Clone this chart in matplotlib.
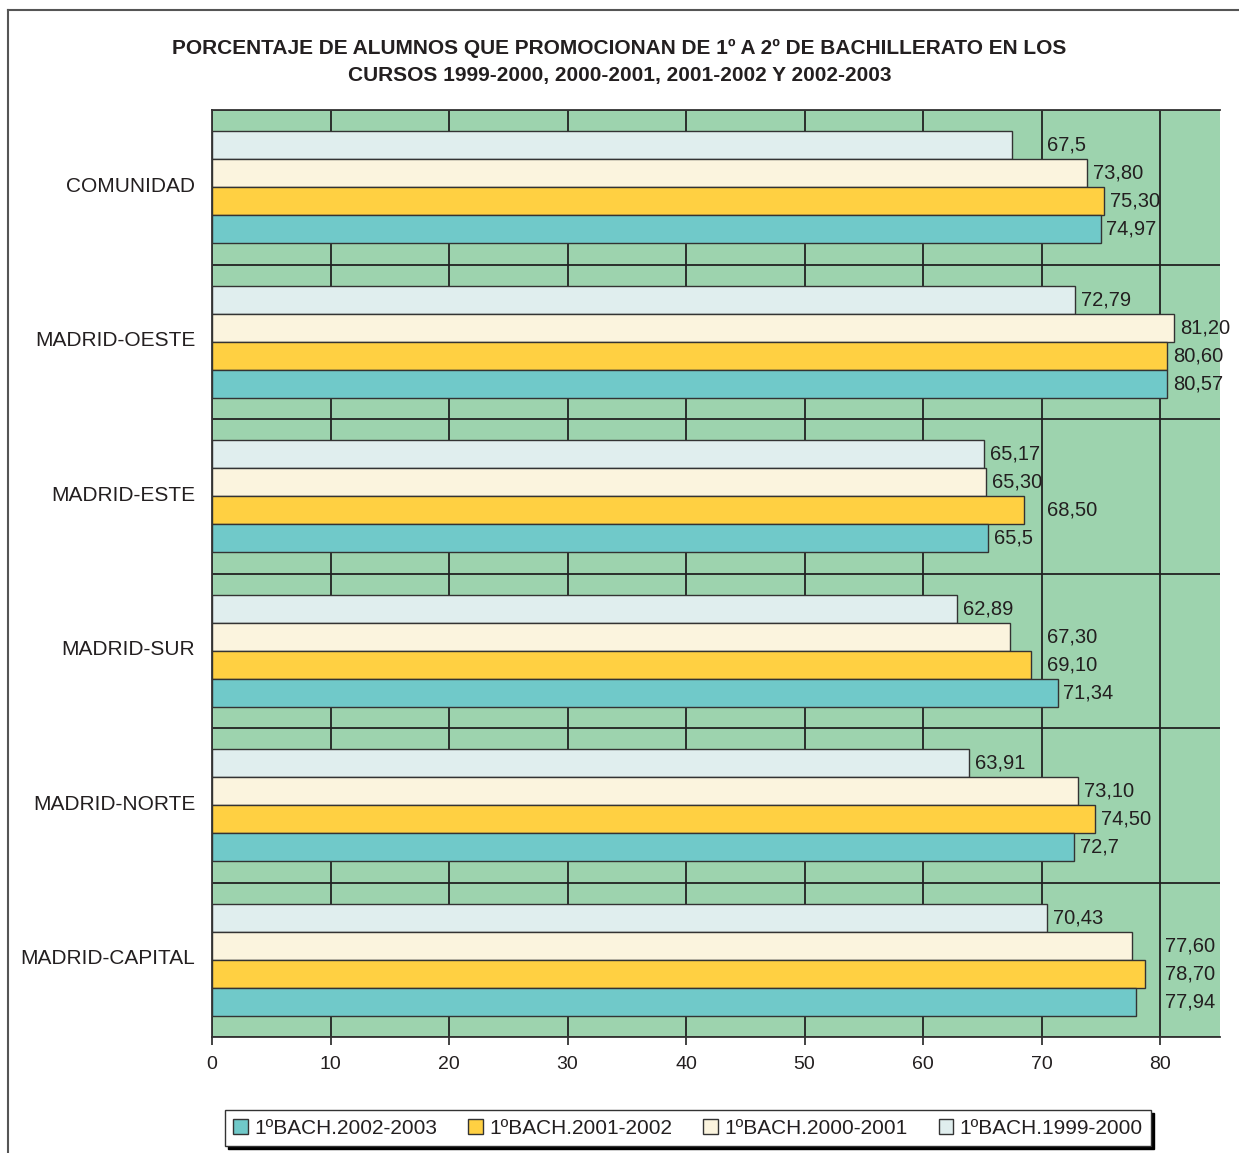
import numpy as np
import matplotlib
matplotlib.use('Agg')
import matplotlib.pyplot as plt
from matplotlib.lines import Line2D

plt.rcParams['font.family'] = ['Liberation Sans', 'DejaVu Sans']

# datos
regiones = ['COMUNIDAD', 'MADRID-OESTE', 'MADRID-ESTE', 'MADRID-SUR',
            'MADRID-NORTE', 'MADRID-CAPITAL']
cursos = ['1999-2000', '2000-2001', '2001-2002', '2002-2003']
v_1999 = [67.5, 72.79, 65.17, 62.89, 63.91, 70.43]
v_2000 = [73.80, 81.20, 65.30, 67.30, 73.10, 77.60]
v_2001 = [75.30, 80.60, 68.50, 69.10, 74.50, 78.70]
v_2002 = [74.97, 80.57, 65.5, 71.34, 72.7, 77.94]
etiquetas_1999 = ['67,5', '72,79', '65,17', '62,89', '63,91', '70,43']
etiquetas_2000 = ['73,80', '81,20', '65,30', '67,30', '73,10', '77,60']
etiquetas_2001 = ['75,30', '80,60', '68,50', '69,10', '74,50', '78,70']
etiquetas_2002 = ['74,97', '80,57', '65,5', '71,34', '72,7', '77,94']
xticks = [0, 10, 20, 30, 40, 50, 60, 70, 80]

series = [v_1999, v_2000, v_2001, v_2002]
etiquetas = [etiquetas_1999, etiquetas_2000, etiquetas_2001, etiquetas_2002]
colores = ['#E0EEEE', '#FBF4DE', '#FFD042', '#70C9C9']
texto = '#231F20'

fig = plt.figure(figsize=(12.39, 11.53), dpi=100)
ax = fig.add_axes([212 / 1239, 1 - 1037 / 1153, 1008 / 1239, 927 / 1153])
ax.set_facecolor('#9DD3AE')

y = np.arange(len(regiones))
h = 0.1812
for j, vals in enumerate(series):
    pos = y + (j - 1.5) * h
    ax.barh(pos, vals, height=h, color=colores[j], edgecolor='#333333',
            linewidth=1.0, zorder=3)
    for yy, v, lab in zip(pos, vals, etiquetas[j]):
        # etiquetas que chocan con la línea de la rejilla se desplazan
        if v % 10 >= 7:
            xl = np.ceil(v / 10) * 10 + 0.45
        else:
            xl = v + 0.5
        ax.text(xl, yy, lab, va='center', ha='left', fontsize=14.5,
                color=texto, zorder=4)

ax.set_xlim(0, 85.05)
ax.set_ylim(len(regiones) - 0.5, -0.5)
ax.set_xticks(xticks)
ax.set_yticks(y - 0.02)
ax.set_yticklabels(regiones)
ax.set_yticks(np.arange(-0.5, len(regiones), 1), minor=True)
ax.tick_params(axis='y', which='both', length=0, pad=12, labelsize=15,
               labelcolor=texto)
ax.tick_params(axis='x', length=6, width=1.2, color='#222222', pad=8,
               labelsize=14, labelcolor=texto)
ax.grid(axis='x', color='#222222', linewidth=1.3, zorder=1)
ax.grid(axis='y', which='minor', color='#222222', linewidth=1.3, zorder=1)
ax.set_axisbelow(True)
for s in ['left', 'bottom', 'top']:
    ax.spines[s].set_color('#333333')
    ax.spines[s].set_linewidth(1.3)
ax.spines['right'].set_visible(False)

fig.text(0.5, 1 - 48 / 1153,
         'PORCENTAJE DE ALUMNOS QUE PROMOCIONAN DE 1º A 2º DE BACHILLERATO EN LOS',
         ha='center', va='center', fontsize=15, fontweight='bold', color=texto)
fig.text(0.5, 1 - 75 / 1153,
         'CURSOS 1999-2000, 2000-2001, 2001-2002 Y 2002-2003',
         ha='center', va='center', fontsize=15, fontweight='bold', color=texto)

# leyenda
orden = [3, 2, 1, 0]
handles = [plt.Rectangle((0, 0), 1, 1, facecolor=colores[k], edgecolor='#333333',
                         linewidth=1.0) for k in orden]
labels = ['1ºBACH.' + cursos[k] for k in orden]
leg = fig.legend(handles, labels, loc='center', ncol=4,
                 bbox_to_anchor=(688 / 1239, 1 - 1128 / 1153),
                 fontsize=15, frameon=True, fancybox=False,
                 shadow={'color': 'black', 'alpha': 1},
                 handlelength=0.7, handleheight=0.7, handletextpad=0.3,
                 columnspacing=1.5, borderpad=0.4)
leg.get_frame().set_edgecolor('#333333')
leg.get_frame().set_linewidth(1.0)
for t in leg.get_texts():
    t.set_color(texto)

# marco de la figura
fig.add_artist(Line2D([8 / 1239, 1], [1 - 10 / 1153, 1 - 10 / 1153],
                      color='#555555', linewidth=1.5, transform=fig.transFigure))
fig.add_artist(Line2D([8 / 1239, 8 / 1239], [0, 1 - 10 / 1153],
                      color='#555555', linewidth=1.5, transform=fig.transFigure))

fig.savefig('out.png', dpi=100)
